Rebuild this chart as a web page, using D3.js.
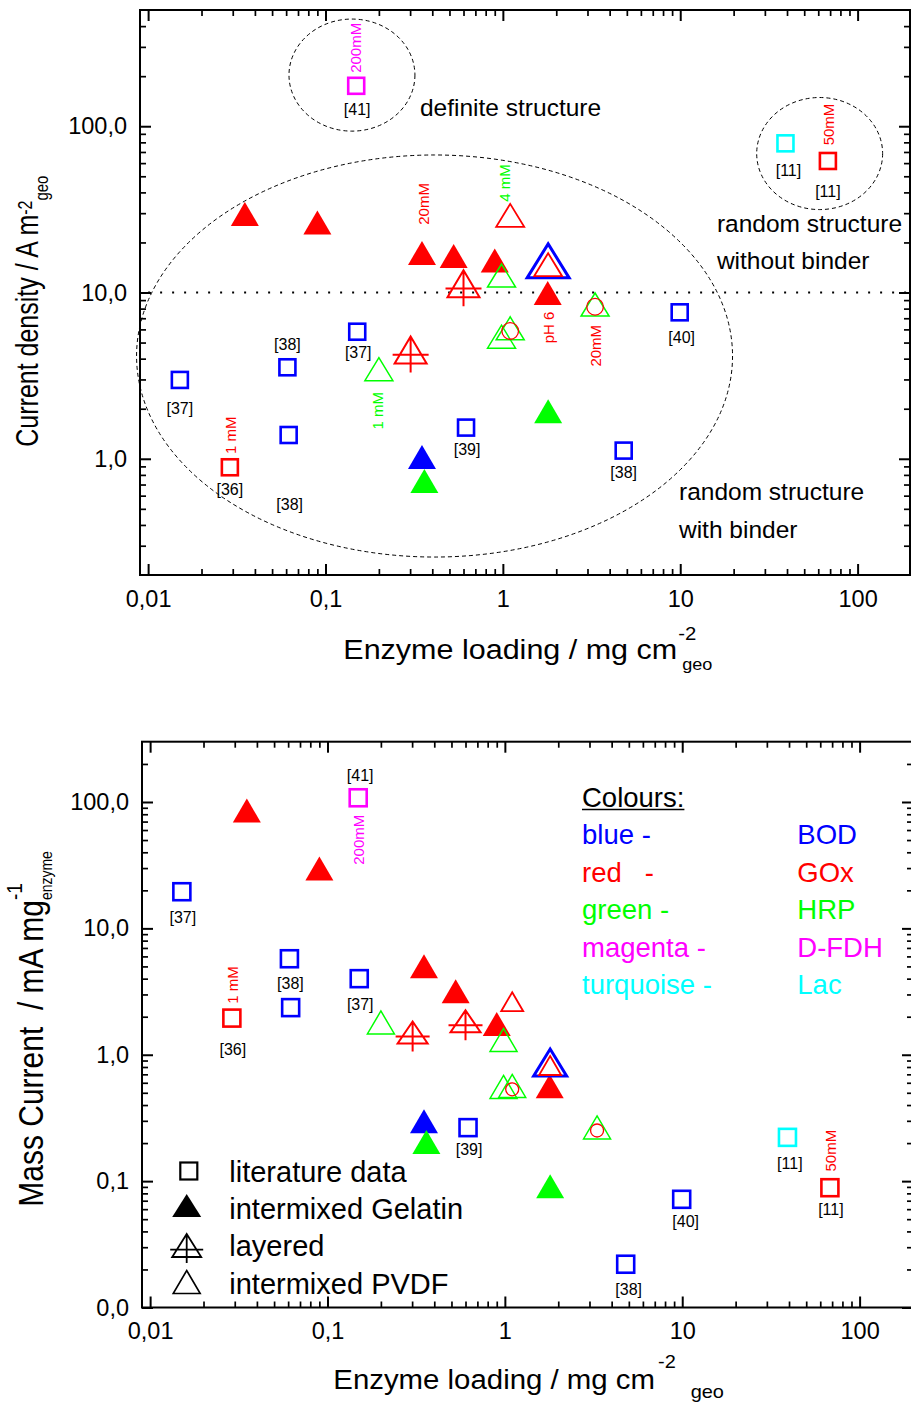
<!DOCTYPE html>
<html>
<head>
<meta charset="utf-8">
<script src="https://cdn.jsdelivr.net/npm/d3@7"></script>
<style>
  html, body { margin: 0; padding: 0; background: #fff; }
  svg { display: block; font-family: "Liberation Sans", Arial, Helvetica, sans-serif; }
</style>
</head>
<body>
<svg id="chart" width="911" height="1403"></svg>
<script>
// ---------------------------------------------------------------------------
// Data: enzyme loading (mg cm-2 geo), current density (A m-2 geo),
// mass current (mA mg-1 enzyme)
// ---------------------------------------------------------------------------
const enzymeColour = { BOD: "#0000ff", GOx: "#ff0000", HRP: "#00ff00", "D-FDH": "#ff00ff", Lac: "#00ffff" };

const literature = [
  { id: "L1",  ref: "[37]", enzyme: "BOD",   loading: 0.0151, density: 2.98,  mass: 19.5 },
  { id: "L2",  ref: "[38]", enzyme: "BOD",   loading: 0.061,  density: 3.55,  mass: 5.75 },
  { id: "L3",  ref: "[38]", enzyme: "BOD",   loading: 0.062,  density: 1.39,  mass: 2.36 },
  { id: "L4",  ref: "[37]", enzyme: "BOD",   loading: 0.151,  density: 5.81,  mass: 4.00 },
  { id: "L5",  ref: "[39]", enzyme: "BOD",   loading: 0.62,   density: 1.54,  mass: 0.265 },
  { id: "L6",  ref: "[38]", enzyme: "BOD",   loading: 4.8,    density: 1.12,  mass: 0.022 },
  { id: "L7",  ref: "[40]", enzyme: "BOD",   loading: 9.93,   density: 7.6,   mass: 0.0718 },
  { id: "L8",  ref: "[36]", enzyme: "GOx",   loading: 0.0289, density: 0.889, mass: 1.95, note: "1 mM" },
  { id: "L9",  ref: "[41]", enzyme: "D-FDH", loading: 0.149,  density: 175,   mass: 108,  note: "200mM" },
  { id: "L10", ref: "[11]", enzyme: "Lac",   loading: 39.2,   density: 78.9,  mass: 0.222 },
  { id: "L11", ref: "[11]", enzyme: "GOx",   loading: 68,     density: 61.8,  mass: 0.0887, note: "50mM" }
];

const gelatin = [
  { id: "G1", enzyme: "GOx", loading: 0.0351, density: 29.7,  mass: 85.6 },
  { id: "G2", enzyme: "GOx", loading: 0.090,  density: 26.4,  mass: 29.8 },
  { id: "G3", enzyme: "GOx", loading: 0.350,  density: 17.3,  mass: 5.01, note: "20mM" },
  { id: "G4", enzyme: "GOx", loading: 0.528,  density: 16.6,  mass: 3.18 },
  { id: "G5", enzyme: "GOx", loading: 0.90,   density: 15.6,  mass: 1.75 },
  { id: "G6", enzyme: "GOx", loading: 1.79,   density: 9.93,  mass: 0.563, note: "pH 6" },
  { id: "G7", enzyme: "BOD", loading: 0.350,  density: 1.025, mass: 0.2975 },
  { id: "G8", enzyme: "HRP", loading: 0.361,  density: 0.735, mass: 0.204 },
  { id: "G9", enzyme: "HRP", loading: 1.80,   density: 1.93,  mass: 0.091 }
];

const layered = [
  { id: "Y1", enzyme: "GOx", loading: 0.302, density: 4.51, mass: 1.50 },
  { id: "Y2", enzyme: "GOx", loading: 0.60,  density: 11.3, mass: 1.84 }
];

const pvdf = [
  { id: "P7", enzyme: "BOD", loading: 1.80,  density: 15.5,  mass: 0.868 },
  { id: "P1", enzyme: "HRP", loading: 0.200, density: 3.46,  mass: 1.80, note: "1 mM" },
  { id: "P2", enzyme: "HRP", loading: 0.983, density: 12.65, mass: 1.31, note: "4 mM" },
  { id: "P3", enzyme: "HRP", loading: 0.983, density: 5.42,  mass: 0.556 },
  { id: "P4", enzyme: "HRP", loading: 1.10,  density: 6.09,  mass: 0.566 },
  { id: "P5", enzyme: "HRP", loading: 3.31,  density: 8.47,  mass: 0.2657 },
  { id: "P6", enzyme: "GOx", loading: 1.10,  density: 29.1,  mass: 2.63 },
  { id: "P8", enzyme: "GOx", loading: 1.80,  density: 14.7,  mass: 0.822 }
];

// GOx co-immobilised in the HRP / PVDF electrodes
const coImmobilised = [
  { id: "C1", enzyme: "GOx", loading: 1.10, density: 5.87, mass: 0.533 },
  { id: "C2", enzyme: "GOx", loading: 3.31, density: 8.21, mass: 0.2515, note: "20mM" }
];

// Axis ranges and labelled ticks
const loadingDomain = [0.009, 200];
const densityDomain = [0.2, 500];
const massDomain = [0.01, 300];
const loadingTicks = [0.01, 0.1, 1, 10, 100];
const densityTicks = [1, 10, 100];
const massTicks = [0.01, 0.1, 1, 10, 100];

// Structure regions in the current-density panel (centre in data units, half-axes in decades)
const regions = [
  { loading: 0.141, density: 203,  rx: 0.355, ry: 0.337 },
  { loading: 0.412, density: 4.15, rx: 1.68,  ry: 1.209 },
  { loading: 61.1,  density: 68.5, rx: 0.355, ry: 0.337 }
];
const regionNotes = [
  { text: "definite structure", loading: 0.341, density: 115 },
  { text: "random structure",   loading: 16.1,  density: 23.1 },
  { text: "without binder",     loading: 16.1,  density: 13.8 },
  { text: "random structure",   loading: 9.84,  density: 0.565 },
  { text: "with binder",        loading: 9.84,  density: 0.335 }
];
const densityGuide = 10;

const enzymeKey = [
  { word: "blue -", enzyme: "BOD" },
  { word: "red   -", enzyme: "GOx" },
  { word: "green -", enzyme: "HRP" },
  { word: "magenta -", enzyme: "D-FDH" },
  { word: "turquoise -", enzyme: "Lac" }
];
const methodKey = ["literature data", "intermixed Gelatin", "layered", "intermixed PVDF"];

// ---------------------------------------------------------------------------
// Layout
// ---------------------------------------------------------------------------
const panels = [
  {
    key: "density",
    frame: { left: 140, top: 10, right: 910, bottom: 575 },
    xRange: [140, 911],
    yDomain: densityDomain, yTicks: densityTicks,
    refPos:  { L1: [0, 28], L2: [0, -23], L3: [1, 69], L4: [1, 21], L5: [1, 22], L6: [0, 22],
               L7: [2, 25], L8: [0, 22], L9: [1, 24], L10: [3, 27], L11: [0, 30] },
    notePos: { L8: [1, -32], L9: [0, -38], L11: [1, -36.5], G3: [2, -49], G6: [1, 34.5],
               P1: [-1.5, 41.5], P2: [3, -92.5], C2: [1, 39] },
    style: { sq: 16, sqW: 2.6, tri: [28, 24], open: [28, 23], goxOpen: [28, 23], bod: [42, 34],
             layered: [32, 27, 9], circle: 8.3 }
  },
  {
    key: "mass",
    frame: { left: 142, top: 741.7, right: 913, bottom: 1307.5 },
    xRange: [142, 913],
    yDomain: massDomain, yTicks: massTicks,
    refPos:  { L1: [1, 26], L2: [1, 25], L4: [1, 25.5], L5: [1, 22], L6: [3, 25], L7: [4, 22],
               L8: [1, 31], L9: [2, -22], L10: [2.4, 26], L11: [1, 22] },
    notePos: { L9: [1, 42], L8: [0.5, -33], L11: [1, -37] },
    style: { sq: 17, sqW: 2.6, tri: [28, 24], open: [27, 23], goxOpen: [22, 19], bod: [33, 27],
             layered: [30, 22, 8], circle: 6.5 }
  }
];

const svg = d3.select("#chart");
svg.append("rect").attr("width", 911).attr("height", 1403).attr("fill", "#fff");

const fmtY = v => d3.format(".1f")(v).replace(".", ",");
const fmtX = v => String(v).replace(".", ",");

function logMinors(domain) {
  const out = [];
  for (let e = -3; e <= 3; e++) {
    for (let m = 2; m <= 9; m++) {
      const v = +(m * Math.pow(10, e)).toPrecision(3);
      if (v > domain[0] * 1.0001 && v < domain[1] * 0.9999) out.push(v);
    }
  }
  return out;
}

const triPath = (w, h) => `M0,${-h / 2}L${w / 2},${h / 2}L${-w / 2},${h / 2}Z`;
const layeredPath = (w, h, ext) =>
  triPath(w, h) +
  `M${-w / 2 - 2},${-h / 2 + 0.68 * h}H${w / 2 + 2}` +
  `M0,${-h / 2}V${h / 2 + ext}`;

function drawAxes(g, x, y, f, yTicks) {
  const xMinor = logMinors(x.domain());
  const yMinor = logMinors(y.domain());
  const sides = [
    { gen: d3.axisBottom, s: x, t: `translate(0,${f.bottom})`, major: loadingTicks, minor: xMinor, fmt: fmtX, pad: 15 },
    { gen: d3.axisTop,    s: x, t: `translate(0,${f.top})`,    major: loadingTicks, minor: xMinor },
    { gen: d3.axisLeft,   s: y, t: `translate(${f.left},0)`,   major: yTicks, minor: yMinor, fmt: fmtY, pad: 13 },
    { gen: d3.axisRight,  s: y, t: `translate(${f.right},0)`,  major: yTicks, minor: yMinor }
  ];
  sides.forEach(sd => {
    const maj = g.append("g").attr("transform", sd.t)
      .call(sd.gen(sd.s).tickValues(sd.major).tickSizeInner(-11).tickSizeOuter(0)
        .tickPadding(sd.pad || 3).tickFormat(sd.fmt || (() => "")));
    maj.attr("font-size", 23.5).attr("font-family", null);
    maj.select(".domain").remove();
    maj.selectAll(".tick line").attr("stroke", "#000").attr("stroke-width", 2);
    maj.selectAll(".tick text").attr("fill", "#000");
    const mnr = g.append("g").attr("transform", sd.t)
      .call(sd.gen(sd.s).tickValues(sd.minor).tickSizeInner(-6).tickSizeOuter(0).tickFormat(() => ""));
    mnr.select(".domain").remove();
    mnr.selectAll(".tick line").attr("stroke", "#000").attr("stroke-width", 1.7);
  });
  g.append("rect")
    .attr("x", f.left).attr("y", f.top)
    .attr("width", f.right - f.left).attr("height", f.bottom - f.top)
    .attr("fill", "none").attr("stroke", "#000").attr("stroke-width", 2);
}

function drawPanel(p) {
  const g = svg.append("g");
  const x = d3.scaleLog().domain(loadingDomain).range(p.xRange);
  const y = d3.scaleLog().domain(p.yDomain).range([p.frame.bottom, p.frame.top]);
  const v = d => y(d[p.key]);
  const at = d => `translate(${x(d.loading)},${v(d)})`;
  const st = p.style;

  if (p.key === "density") {
    // dashed outlines of the structure regions
    g.selectAll(null).data(regions).join("ellipse")
      .attr("cx", d => x(d.loading)).attr("cy", d => y(d.density))
      .attr("rx", d => x(d.loading * Math.pow(10, d.rx)) - x(d.loading))
      .attr("ry", d => y(d.density) - y(d.density * Math.pow(10, d.ry)))
      .attr("fill", "none").attr("stroke", "#000").attr("stroke-width", 1)
      .attr("stroke-dasharray", "4,3");
    // dotted guide at 10 A m-2
    g.append("line")
      .attr("x1", x(0.01)).attr("x2", p.frame.right)
      .attr("y1", y(densityGuide)).attr("y2", y(densityGuide))
      .attr("stroke", "#000").attr("stroke-width", 2).attr("stroke-dasharray", "2,10");
    g.selectAll(null).data(regionNotes).join("text")
      .attr("x", d => x(d.loading)).attr("y", d => y(d.density))
      .attr("font-size", 24.5).attr("fill", "#000").text(d => d.text);
  }

  drawAxes(g, x, y, p.frame, p.yTicks);

  // literature data: open squares
  g.selectAll(null).data(literature).join("rect")
    .attr("x", d => x(d.loading) - st.sq / 2).attr("y", d => v(d) - st.sq / 2)
    .attr("width", st.sq).attr("height", st.sq)
    .attr("fill", "none").attr("stroke", d => enzymeColour[d.enzyme]).attr("stroke-width", st.sqW);

  // intermixed gelatin: filled triangles
  g.selectAll(null).data(gelatin).join("path")
    .attr("transform", at).attr("d", triPath(st.tri[0], st.tri[1]))
    .attr("fill", d => enzymeColour[d.enzyme]);

  // layered: triangle with cross
  g.selectAll(null).data(layered).join("path")
    .attr("transform", at).attr("d", layeredPath(st.layered[0], st.layered[1], st.layered[2]))
    .attr("fill", "none").attr("stroke", d => enzymeColour[d.enzyme]).attr("stroke-width", 2);

  // intermixed PVDF: open triangles
  const openSize = d => d.enzyme === "BOD" ? st.bod : d.enzyme === "GOx" ? st.goxOpen : st.open;
  g.selectAll(null).data(pvdf).join("path")
    .attr("transform", at).attr("d", d => triPath(openSize(d)[0], openSize(d)[1]))
    .attr("fill", "none").attr("stroke", d => enzymeColour[d.enzyme])
    .attr("stroke-width", d => d.enzyme === "BOD" ? 3 : d.enzyme === "GOx" ? 1.8 : 1.5);

  // co-immobilised GOx: open circles
  g.selectAll(null).data(coImmobilised).join("circle")
    .attr("cx", d => x(d.loading)).attr("cy", v).attr("r", st.circle)
    .attr("fill", "none").attr("stroke", d => enzymeColour[d.enzyme]).attr("stroke-width", 1.3);

  // reference labels
  const refs = literature.filter(d => p.refPos[d.id]);
  g.selectAll(null).data(refs).join("text")
    .attr("x", d => x(d.loading) + p.refPos[d.id][0])
    .attr("y", d => v(d) + p.refPos[d.id][1])
    .attr("dy", "0.35em").attr("text-anchor", "middle")
    .attr("font-size", 16).attr("fill", "#000").text(d => d.ref);

  // condition notes, written upwards
  const all = [].concat(literature, gelatin, layered, pvdf, coImmobilised);
  const notes = all.filter(d => d.note && p.notePos[d.id]);
  g.selectAll(null).data(notes).join("text")
    .attr("transform", d => `translate(${x(d.loading) + p.notePos[d.id][0]},${v(d) + p.notePos[d.id][1]}) rotate(-90)`)
    .attr("dy", "0.35em").attr("text-anchor", "middle")
    .attr("font-size", 15).attr("fill", d => enzymeColour[d.enzyme]).text(d => d.note);
}

panels.forEach(drawPanel);

// ---------------------------------------------------------------------------
// Axis titles
// ---------------------------------------------------------------------------
function hTitle(tx, ty, sx, size, main, sup, sub) {
  const g = svg.append("g").attr("transform", `translate(${tx},${ty}) scale(${sx},1)`)
    .attr("font-size", size).attr("fill", "#000");
  const t = g.append("text").style("white-space", "pre").text(main);
  const L = t.node().getComputedTextLength();
  g.append("text").attr("x", L + sup.dx).attr("y", sup.dy).attr("font-size", sup.size).text(sup.text);
  g.append("text").attr("x", L + sub.dx).attr("y", sub.dy).attr("font-size", sub.size).text(sub.text);
}
function vTitle(tx, ty, sy, size, main, sup, sub) {
  const g = svg.append("g").attr("transform", `translate(${tx},${ty}) rotate(-90) scale(1,${sy})`)
    .attr("font-size", size).attr("fill", "#000");
  const t = g.append("text").style("white-space", "pre").text(main);
  const L = t.node().getComputedTextLength();
  const s = g.append("text").attr("x", L + sup.dx).attr("y", sup.dy).attr("font-size", sup.size).text(sup.text);
  const sL = s.node().getComputedTextLength();
  g.append("text").attr("x", L + (sub.after ? sL : 0) + sub.dx).attr("y", sub.dy)
    .attr("font-size", sub.size).text(sub.text);
}

hTitle(343.3, 659, 1.13, 27, "Enzyme loading / mg cm",
  { text: "-2", dx: 1, dy: -19, size: 18 }, { text: "geo", dx: 4.4, dy: 11, size: 16 });
hTitle(333.3, 1389.3, 1.05, 28, "Enzyme loading / mg cm",
  { text: "-2", dx: 3, dy: -21, size: 19 }, { text: "geo", dx: 34, dy: 8.5, size: 19 });
vTitle(38, 446.7, 1.25, 25, "Current density / A m",
  { text: "-2", dx: 0, dy: -5, size: 16 }, { text: "geo", dx: 0, dy: 7.8, size: 15, after: true });
vTitle(43.3, 1206.7, 1.15, 30, "Mass Current  / mA mg",
  { text: "-1", dx: 0, dy: -18.5, size: 19 }, { text: "enzyme", dx: 0, dy: 7.6, size: 14 });

// ---------------------------------------------------------------------------
// Legends
// ---------------------------------------------------------------------------
const colourLegend = svg.append("g").attr("font-size", 27.5);
const head = colourLegend.append("text").attr("x", 582).attr("y", 807).attr("fill", "#000").text("Colours:");
const headLen = head.node().getComputedTextLength();
colourLegend.append("line").attr("x1", 582).attr("x2", 582 + headLen)
  .attr("y1", 809.5).attr("y2", 809.5).attr("stroke", "#000").attr("stroke-width", 1.4);
colourLegend.selectAll(null).data(enzymeKey).join("text")
  .attr("x", 582).attr("y", (d, i) => 844 + i * 37.5).style("white-space", "pre")
  .attr("fill", d => enzymeColour[d.enzyme]).text(d => d.word);
colourLegend.selectAll(null).data(enzymeKey).join("text")
  .attr("x", 797.3).attr("y", (d, i) => 844 + i * 37.5)
  .attr("fill", d => enzymeColour[d.enzyme]).text(d => d.enzyme);

const methodLegend = svg.append("g");
const rowY = i => 1171 + i * 37.5;
methodLegend.append("rect").attr("x", 188.8 - 8.5).attr("y", rowY(0) - 8.5).attr("width", 17).attr("height", 17)
  .attr("fill", "none").attr("stroke", "#000").attr("stroke-width", 2.2);
methodLegend.append("path").attr("transform", `translate(186.7,${rowY(1) - 3})`).attr("d", triPath(29, 23)).attr("fill", "#000");
methodLegend.append("path").attr("transform", `translate(186.7,${rowY(2) - 0.5})`).attr("d", layeredPath(29, 23, 6))
  .attr("fill", "none").attr("stroke", "#000").attr("stroke-width", 1.8);
methodLegend.append("path").attr("transform", `translate(186.7,${rowY(3) - 1.5})`).attr("d", triPath(27, 23))
  .attr("fill", "none").attr("stroke", "#000").attr("stroke-width", 1.6);
methodLegend.selectAll(null).data(methodKey).join("text")
  .attr("x", 229.3).attr("y", (d, i) => 1181.7 + i * 37.3)
  .attr("font-size", 29).attr("fill", "#000").text(d => d);
</script>
</body>
</html>
